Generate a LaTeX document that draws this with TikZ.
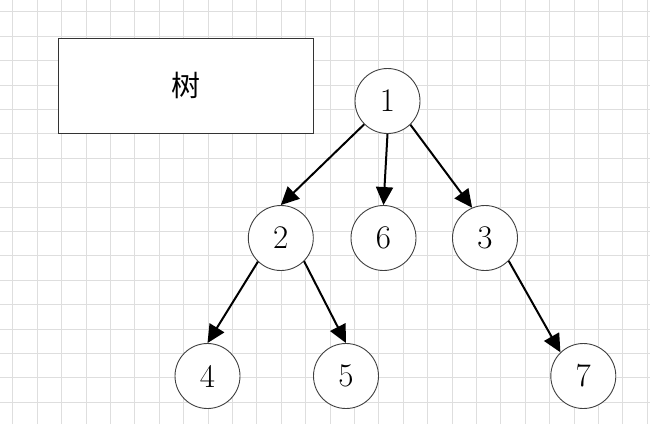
\documentclass[tikz,border=0pt]{standalone}
\usepackage{fontspec}
\newfontfamily\cjk{Noto Sans CJK SC}
\usetikzlibrary{arrows.meta}
\tikzset{
  gridline/.style={draw=black!13, line width=0.8pt},
  vertex/.style={circle, draw=black!75, line width=0.9pt, fill=white, minimum size=65pt, inner sep=0pt, font=\fontsize{33}{33}\selectfont},
  titlebox/.style={draw=black!80, line width=0.9pt, fill=white, minimum width=255pt, minimum height=95pt, inner sep=0pt, font=\cjk\fontsize{29}{29}\selectfont},
  edge/.style={line width=2pt, -{Triangle[length=18pt,width=17pt]}}
}
\begin{document}
\begin{tikzpicture}[x=1pt,y=-1pt]
\useasboundingbox (0,0) rectangle (650,424);
\fill[white] (0,0) rectangle (650,424);
\foreach \k in {0,...,26} { \draw[gridline] (12.7+24.4*\k,0) -- (12.7+24.4*\k,424); }
\foreach \k in {0,...,17} { \draw[gridline] (0,11.7+24.4*\k) -- (650,11.7+24.4*\k); }
\node[titlebox] (title) at (185.5,85.5) {树};
\node[vertex] (n1) at (387.5,101) {1};
\node[vertex] (n2) at (280.8,238) {2};
\node[vertex] (n6) at (383.5,238) {6};
\node[vertex] (n3) at (485,238) {3};
\node[vertex] (n4) at (207.5,376) {4};
\node[vertex] (n5) at (346,376) {5};
\node[vertex] (n7) at (583.3,376) {7};
\draw[edge] (n1.225) -- (n2.north);
\draw[edge] (n1.270) -- (n6.north);
\draw[edge] (n1.314) -- (n3.113);
\draw[edge] (n2.226) -- (n4.north);
\draw[edge] (n2.315) -- (n5.north);
\draw[edge] (n3.316) -- (n7.134);
\end{tikzpicture}
\end{document}
